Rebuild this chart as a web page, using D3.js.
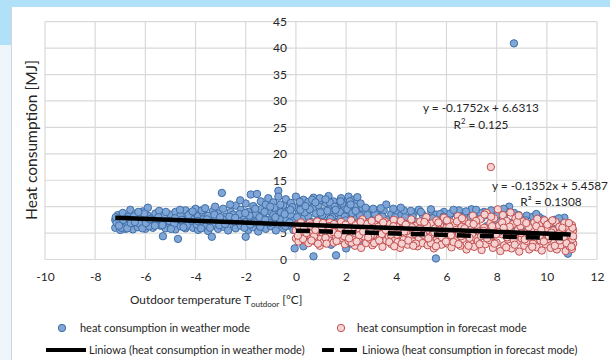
<!DOCTYPE html>
<html><head><meta charset="utf-8">
<script src="https://cdn.jsdelivr.net/npm/d3@7"></script>
<style>
html,body{margin:0;padding:0;background:#fff;overflow:hidden;}
svg{display:block;font-family:Lato,"Open Sans",sans-serif;}
</style>
</head><body>
<svg id="chart" width="610" height="360"></svg>
<script>
// ---------- DATA ----------
const xTicks = [-10,-8,-6,-4,-2,0,2,4,6,8,10,12];
const yTicks = [0,5,10,15,20,25,30,35,40,45];

const weatherPoints = [
[-7.2,6.0],[-7.2,7.5],[-7.1,8.4],[-7.1,6.8],[-7.0,5.6],[-7.0,7.9],[-6.9,6.4],[-6.9,8.8],[-6.8,7.2],[-6.8,5.8],
[-6.7,8.1],[-6.7,6.6],[-6.6,9.4],[-6.6,7.6],[-6.5,5.7],[-6.5,6.9],[-6.4,8.6],[-6.3,7.3],[-6.3,6.1],[-6.2,8.0],
[-6.1,9.1],[-6.1,6.6],[-6.0,7.6],[-6.0,5.8],[-5.9,8.3],[-5.9,9.8],[-5.8,6.9],[-5.7,7.9],[-5.7,6.0],[-5.6,8.7],
[-5.5,7.2],[-5.4,6.4],[-5.4,8.2],[-5.3,4.4],[-5.3,7.0],[-5.2,5.9],[-5.1,7.8],[-5.0,6.5],[-5.0,8.5],[-4.9,7.3],
[-4.8,5.7],[-4.8,9.0],[-4.7,3.9],[-4.7,7.7],[-4.6,6.3],[-4.6,8.4],[-4.5,7.0],[-4.4,9.3],[-4.4,5.9],[-4.3,7.9],
[-4.2,6.8],[-4.2,8.8],[-4.1,6.0],[-4.0,7.4],[-4.0,9.6],[-3.9,8.2],[-3.9,5.6],[-3.8,6.9],[-3.7,8.8],[-3.7,7.6],
[-3.6,6.2],[-3.5,5.4],[-3.5,8.3],[-3.4,7.1],[-3.35,4.3],[-3.3,9.2],[-3.3,6.5],[-3.2,7.8],[-3.1,5.8],[-3.1,8.7],
[-3.0,7.0],[-2.95,12.6],[-2.9,9.6],[-2.9,6.2],[-2.8,8.1],[-2.7,5.5],[-2.7,7.4],[-2.6,9.0],[-2.5,6.7],[-2.5,8.5],
[-2.4,10.2],[-2.4,5.9],[-2.3,7.6],[-2.2,9.4],[-2.2,6.4],[-2.1,8.2],[-2.0,4.3],[-2.0,10.6],[-2.0,7.1],[-1.9,5.6],
[-1.9,9.0],[-1.8,12.3],[-1.8,7.8],[-1.7,6.1],[-1.7,10.1],[-1.6,8.6],[-1.55,12.4],[-1.5,5.3],[-1.5,7.2],[-1.4,11.0],
[-1.4,9.5],[-1.3,6.6],[-1.3,8.1],[-1.2,10.4],[-1.2,5.8],[-1.1,7.5],[-1.1,11.6],[-1.0,9.0],[-1.0,6.3],[-0.9,8.4],
[-0.9,10.8],[-0.8,5.5],[-0.8,7.0],[-0.7,13.0],[-0.7,9.6],[-0.7,11.9],[-0.6,6.8],[-0.6,8.9],[-0.5,10.3],[-0.5,5.9],
[-0.4,7.7],[-0.4,11.4],[-0.3,9.2],[-0.3,6.4],[-0.2,8.3],[-0.2,10.7],[-0.1,5.6],[-0.1,7.3],[-0.05,2.1],[0.0,9.8],
[0.0,11.9],[0.1,6.9],[0.1,8.6],[0.2,10.4],[0.2,5.3],[0.3,2.5],[0.3,7.8],[0.3,11.3],[0.4,9.3],[0.4,6.2],
[0.5,10.9],[0.5,8.1],[0.6,7.1],[0.6,4.9],[0.7,0.6],[0.7,9.8],[0.7,11.7],[0.8,6.5],[0.8,8.7],[0.9,10.3],
[0.9,5.6],[1.0,7.6],[1.0,11.2],[1.1,9.1],[1.1,4.6],[1.2,6.9],[1.2,10.7],[1.3,8.3],[1.3,12.0],[1.4,5.9],
[1.4,9.7],[1.5,7.3],[1.5,11.0],[1.6,0.8],[1.6,8.8],[1.6,4.4],[1.7,10.2],[1.7,6.4],[1.8,11.6],[1.8,7.9],
[1.9,9.4],[1.9,5.3],[2.0,2.1],[2.0,10.8],[2.0,6.8],[2.1,8.6],[2.1,11.9],[2.2,7.4],[2.2,9.9],[2.3,5.7],
[2.3,11.3],[2.4,8.2],[2.4,10.5],[2.5,6.5],[2.5,9.1],[2.6,7.7],[2.7,5.4],[2.7,8.9],[2.8,7.0],[2.9,9.4],
[3.0,6.2],[3.0,8.3],[3.1,7.5],[3.2,9.0],[3.3,5.8],[3.3,8.0],[3.4,6.9],[3.5,9.3],[3.6,10.4],[3.6,7.6],
[3.7,5.6],[3.8,8.6],[3.9,6.6],[4.0,9.0],[4.1,7.3],[4.2,5.4],[4.2,8.4],[4.3,9.3],[4.4,6.8],[4.5,7.8],
[4.6,5.9],[4.7,8.9],[4.8,7.1],[4.9,9.4],[5.0,6.3],[5.1,8.2],[5.2,5.5],[5.3,7.6],[5.4,9.1],[5.5,6.7],
[5.58,0.2],[5.6,8.5],[5.7,5.8],[5.8,7.3],[5.9,9.0],[6.0,6.2],[6.1,8.0],[6.2,5.3],[6.3,8.8],[6.4,7.0],
[6.5,9.3],[6.6,6.0],[6.7,8.3],[6.8,7.4],[7.0,9.5],[7.1,6.6],[7.2,8.7],[7.3,5.6],[7.4,7.8],[7.5,9.0],
[7.6,6.3],[7.8,8.2],[7.9,5.4],[8.0,7.4],[8.1,9.2],[8.2,6.5],[8.3,8.5],[8.5,10.0],[8.5,7.0],[8.6,5.6],
[8.69,40.9],[8.7,8.8],[8.8,6.2],[9.0,7.6],[9.1,5.3],[9.2,8.3],[9.3,6.7],[9.5,7.2],[9.6,5.5],[9.7,8.0],
[9.8,6.3],[10.0,7.0],[10.1,5.1],[10.2,6.4],[10.3,7.5],[10.4,4.8],[10.5,6.0],[10.6,5.4],[10.7,7.9],[10.8,4.3],
[10.84,1.1],[10.9,5.8],[11.0,4.6],
[-7.15,7.0],[-6.95,6.0],[-6.75,7.7],[-6.45,8.2],[-6.25,6.8],[-6.05,8.7],[-5.85,6.3],[-5.65,7.5],[-5.45,9.2],[-5.25,8.4],
[-5.05,7.3],[-4.85,6.8],[-4.55,7.5],[-4.35,6.4],[-4.15,7.6],[-3.95,6.6],[-3.75,9.3],[-3.55,7.6],[-3.25,8.5],[-3.05,6.5],
[-2.85,7.5],[-2.65,8.1],[-2.45,7.2],[-2.25,8.6],[-2.05,6.0],[-1.85,8.3],[-1.65,7.0],[-1.45,8.0],[-1.25,9.0],[-1.05,6.9],
[-0.85,9.8],[-0.65,7.6],[-0.45,8.6],[-0.25,7.0],[-0.15,9.9],[0.05,8.0],[0.15,10.9],[0.35,8.9],[0.55,9.5],[0.65,11.3],
[0.85,7.3],[0.95,11.6],[1.05,8.4],[1.25,9.2],[1.35,10.8],[1.45,8.0],[1.55,10.0],[1.75,9.0],[1.85,10.6],[1.95,8.1],
[2.05,9.5],[2.15,11.0],[2.25,8.8],[2.35,10.0],[2.45,11.8],[2.55,8.3],[2.65,9.8],[2.6,3.2],[2.85,8.4],[3.15,8.6],
[3.45,8.1],[3.95,8.0],[4.35,8.0],[4.65,8.2],[5.05,8.5],[5.45,7.8],[5.75,8.6],[6.15,8.7],[6.55,8.1],[6.95,7.9],
[7.35,8.8],[7.65,8.4],[8.05,8.5],[8.45,9.0],[9.15,7.4],[9.45,8.1],[9.85,7.6],[10.25,6.9],[10.55,7.2],[10.95,6.6],
[0.9,3.2],[1.4,2.8],[2.2,3.0],
[-7.18,8.0],[-7.05,6.4],[-6.88,7.5],[-6.72,5.9],[-6.58,6.9],[-6.42,7.1],[-6.28,9.0],[-6.12,5.9],[-5.98,6.9],[-5.82,7.6],
[-5.62,6.4],[-5.48,8.0],[-5.32,6.5],[-5.18,9.0],[-4.98,5.8],[-4.82,7.8],[-4.62,9.4],[-4.48,6.1],[-4.28,8.4],[-4.12,9.1],
[-3.92,7.3],[-3.78,5.9],[-3.62,9.7],[-3.42,6.0],[-3.22,10.0],[-3.02,8.0],[-2.82,6.7],[-2.62,10.4],[-2.42,7.9],[-2.22,11.2],
[-2.02,8.8],[-1.82,6.6],[-1.62,9.6],[-1.42,6.2],[-1.22,7.5],[-1.02,10.0],[-0.82,8.0],[-0.62,10.4],[-0.42,6.3],[-0.22,9.4],
[-0.02,6.2],[0.18,9.4],[0.38,10.1],[0.58,6.0],[0.78,10.8],[0.98,8.9],[1.18,11.4],[1.38,7.7],[1.58,9.4],[1.78,11.0],
[1.98,7.4],[2.18,10.4],[2.38,9.2],[2.58,10.6],[2.78,9.8],[3.08,9.6],[3.38,9.7],[3.88,9.6],[4.18,9.8],[4.58,9.2],
[4.98,9.0],[5.38,9.5],[5.88,8.1],[6.28,9.4],[6.78,9.1],[7.18,9.4],[7.78,9.3],[8.28,9.6],[8.88,8.4],[9.58,8.6],[10.48,7.8]
];

const forecastPoints = [
[0.0,5.5],[0.0,4.0],[0.05,6.6],[0.1,3.4],[0.15,4.8],[0.2,5.9],[0.2,7.0],[0.25,4.2],[0.3,5.2],[0.35,3.6],[0.4,6.4],[0.45,4.6],[0.5,5.6],[0.5,3.1],
[0.55,6.9],[0.6,4.1],[0.65,5.0],[0.7,6.1],[0.75,3.5],[0.8,4.7],[0.85,7.2],[0.9,5.4],[0.95,2.6],[1.0,6.3],[1.0,4.0],
[1.05,5.1],[1.1,3.3],[1.15,6.7],[1.2,4.5],[1.25,5.8],[1.3,3.8],[1.35,7.0],[1.4,4.9],[1.45,6.1],[1.5,3.2],
[1.55,5.4],[1.6,4.3],[1.65,6.5],[1.7,3.6],[1.75,5.0],[1.8,7.1],[1.85,4.0],[1.9,5.9],[1.95,2.9],[2.0,4.7],
[2.05,6.3],[2.1,3.5],[2.15,5.3],[2.2,7.4],[2.25,4.3],[2.3,6.0],[2.35,2.6],[2.4,4.9],[2.45,6.8],[2.5,3.8],
[2.55,5.6],[2.6,2.2],[2.65,7.6],[2.7,4.4],[2.75,6.3],[2.8,3.1],[2.85,5.1],[2.9,7.0],[2.95,3.9],[3.0,5.8],
[3.05,2.7],[3.1,4.7],[3.15,6.6],[3.2,3.4],[3.25,5.4],[3.3,7.8],[3.35,4.1],[3.4,6.1],[3.45,2.4],[3.5,5.0],
[3.55,7.2],[3.6,3.6],[3.65,5.7],[3.7,4.4],[3.75,6.7],[3.8,2.9],[3.85,5.2],[3.9,7.5],[3.95,4.0],[4.0,6.2],
[4.05,3.3],[4.1,5.5],[4.15,2.2],[4.2,4.6],[4.25,7.0],[4.3,3.8],[4.35,6.0],[4.4,5.0],[4.45,2.8],[4.5,6.8],
[4.55,4.2],[4.6,7.6],[4.65,3.4],[4.7,5.6],[4.75,4.8],[4.8,6.4],[4.85,2.5],[4.9,3.9],[4.95,7.2],[5.0,5.2],
[5.05,3.1],[5.1,6.0],[5.15,4.4],[5.2,8.0],[5.25,2.7],[5.3,5.5],[5.35,3.7],[5.4,6.8],[5.45,4.8],[5.5,2.1],
[5.55,5.9],[5.6,7.4],[5.65,3.3],[5.7,4.6],[5.75,6.4],[5.8,2.8],[5.85,5.2],[5.9,7.9],[5.95,4.0],[6.0,6.0],
[6.05,3.0],[6.1,5.0],[6.15,7.1],[6.2,2.3],[6.25,4.3],[6.3,6.5],[6.35,3.6],[6.4,5.6],[6.45,8.2],[6.5,4.8],
[6.55,2.6],[6.6,6.2],[6.65,3.9],[6.7,7.5],[6.75,5.2],[6.8,1.9],[6.85,4.5],[6.9,6.8],[6.95,3.2],[7.0,5.7],
[7.05,8.3],[7.1,2.4],[7.15,4.1],[7.2,6.4],[7.25,3.5],[7.3,5.3],[7.35,7.6],[7.4,1.8],[7.45,4.7],[7.5,6.0],
[7.55,2.9],[7.6,8.8],[7.65,5.1],[7.7,3.7],[7.75,6.9],[7.77,17.5],[7.8,4.4],[7.85,2.2],[7.9,7.8],[7.95,5.6],[8.0,3.2],
[8.05,9.5],[8.1,6.4],[8.15,1.6],[8.2,4.8],[8.25,8.4],[8.3,2.7],[8.35,5.9],[8.4,7.3],[8.45,3.8],[8.5,5.2],
[8.55,8.9],[8.6,2.1],[8.65,6.7],[8.7,4.3],[8.75,7.8],[8.8,3.3],[8.85,5.6],[8.9,1.5],[8.95,6.3],[9.0,4.0],
[9.05,7.2],[9.1,2.6],[9.15,5.0],[9.2,3.5],[9.25,6.6],[9.3,1.9],[9.35,4.6],[9.4,5.8],[9.45,3.0],[9.5,7.0],
[9.55,4.2],[9.6,2.3],[9.65,5.4],[9.7,6.5],[9.75,3.6],[9.8,1.7],[9.85,4.9],[9.9,7.4],[9.95,2.9],[10.0,5.9],
[10.05,3.9],[10.1,6.8],[10.15,2.2],[10.2,4.6],[10.25,5.5],[10.3,3.2],[10.35,7.1],[10.4,1.9],[10.45,4.2],[10.5,6.2],
[10.55,2.7],[10.6,5.1],[10.65,3.7],[10.7,6.9],[10.75,1.6],[10.8,4.5],[10.85,5.8],[10.9,2.5],[10.95,3.4],[11.0,6.5],
[11.0,4.9],[11.0,2.0],[11.05,5.5],[11.05,3.0],
[0.12,6.1],[0.28,3.9],[0.42,5.0],[0.58,6.4],[0.72,4.4],[0.88,3.0],[1.02,5.7],[1.18,4.1],[1.32,6.3],[1.48,5.2],
[1.62,3.5],[1.78,6.0],[1.92,4.4],[2.08,5.6],[2.22,3.2],[2.38,6.5],[2.52,4.6],[2.68,5.3],[2.82,6.7],[2.98,4.5],
[3.12,3.1],[3.28,6.2],[3.42,4.8],[3.58,5.6],[3.72,3.3],[3.88,6.3],[4.02,4.7],[4.18,7.3],[4.32,5.3],[4.48,3.6],
[4.62,6.1],[4.78,3.0],[4.92,5.8],[5.08,4.7],[5.22,6.5],[5.38,3.1],[5.52,5.1],[5.68,7.0],[5.82,4.2],[5.98,3.4],
[6.12,6.2],[6.28,3.3],[6.42,7.2],[6.58,4.4],[6.72,5.9],[6.88,2.6],[7.02,4.8],[7.18,7.3],[7.32,2.9],[7.48,5.4],
[7.62,4.0],[7.78,8.1],[7.92,3.0],[8.08,5.2],[8.22,7.0],[8.38,2.3],[8.52,6.2],[8.68,3.7],[8.82,7.1],[8.98,5.0],
[9.12,3.8],[9.28,6.1],[9.42,2.4],[9.58,6.3],[9.72,4.5],[9.88,3.4],[10.02,6.6],[10.18,5.1],[10.32,2.6],[10.48,4.9],
[10.62,6.0],[10.78,3.1],[10.92,5.2],[11.02,3.9],[11.02,6.0],[10.98,2.4],
[0.08,4.5],[0.32,6.0],[0.62,3.6],[0.78,5.6],[1.08,6.9],[1.22,3.0],[1.52,6.7],[1.68,4.7],[1.98,6.6],[2.12,4.0],
[2.42,3.4],[2.58,7.1],[2.88,4.2],[3.02,7.3],[3.32,3.6],[3.48,7.0],[3.78,4.7],[3.92,2.5],[4.22,3.0],[4.38,6.6],
[4.68,2.6],[4.82,5.3],[5.12,7.1],[5.28,4.0],[5.58,2.5],[5.72,5.6],[6.02,7.4],[6.18,4.6],[6.48,2.9],[6.62,7.8],
[6.92,4.1],[7.08,6.7],[7.38,4.4],[7.52,8.5],[7.82,6.3],[7.98,4.8],[8.28,6.0],[8.42,4.2],[8.72,2.8],[8.88,8.3],
[9.18,6.9],[9.32,4.3],[9.62,7.7],[9.78,5.6],[10.08,4.4],[10.22,7.4],[10.52,3.6],[10.68,4.3],[10.88,6.9],[11.05,4.4]
];

const weatherTrendCoef = [-0.1752, 6.6313];
const weatherTrendRange = [-7.2, 10.95];
const forecastTrendCoef = [-0.1352, 5.4587];
const forecastTrendRange = [0.0, 10.95];

const equationLines1 = ["y = -0.1752x + 6.6313", "R", "2", " = 0.125"];
const equationLines2 = ["y = -0.1352x + 5.4587", "R² = 0.1308"];
const legendLabels = [
  "heat consumption in weather mode",
  "heat consumption in forecast mode",
  "Liniowa (heat consumption in weather mode)",
  "Liniowa (heat consumption in forecast mode)"
];
const yTitle = "Heat consumption [MJ]";
const xTitleParts = ["Outdoor temperature T", "outdoor", " [°C]"];

// ---------- STYLE ----------
const blueFill = "#7fa6d7", blueStroke = "#3f6ea6";
const pinkFill = "#f5d3d3", pinkStroke = "#c44f4f";
const gridColor = "#d9d9d9", textColor = "#262626";

const svg = d3.select("#chart");

// page frame
svg.append("rect").attr("x",0).attr("y",0).attr("width",610).attr("height",360).attr("fill","#fff");
svg.append("rect").attr("x",0).attr("y",0).attr("width",610).attr("height",7).attr("fill","#b1e0f9");
svg.append("rect").attr("x",0).attr("y",0).attr("width",11).attr("height",45).attr("fill","#b1e0f9");
svg.append("rect").attr("x",0).attr("y",45).attr("width",11).attr("height",315).attr("fill","#eef6fb");
svg.append("line").attr("x1",11.5).attr("x2",11.5).attr("y1",7).attr("y2",360).attr("stroke","#d4d4d4").attr("stroke-width",1);

const x = d3.scaleLinear().domain([-10,12]).range([45,597]);
const y = d3.scaleLinear().domain([0,45]).range([259.5,21.7]);

function fitWidth(sel, target){
  const n = sel.node();
  const fs = parseFloat(sel.attr("font-size"));
  const w = n.getComputedTextLength();
  if (w > 0) sel.attr("font-size", (fs*target/w).toFixed(2));
}

// grid
const grid = svg.append("g");
grid.selectAll("line.h").data(yTicks).enter().append("line")
  .attr("x1", x(-10)).attr("x2", x(12))
  .attr("y1", d=>y(d)).attr("y2", d=>y(d))
  .attr("stroke", gridColor).attr("stroke-width",1.2);
grid.selectAll("line.v").data(xTicks).enter().append("line")
  .attr("x1", d=>x(d)).attr("x2", d=>x(d))
  .attr("y1", y(0)).attr("y2", y(45))
  .attr("stroke", gridColor).attr("stroke-width",1.2);

// axes labels
const xAxis = svg.append("g").attr("transform",`translate(0,${y(0)})`)
  .call(d3.axisBottom(x).tickValues(xTicks).tickSize(0).tickPadding(13).tickFormat(d3.format("d")));
xAxis.select(".domain").remove();
xAxis.selectAll("text").attr("font-size",12).attr("font-family","Lato, sans-serif").attr("fill",textColor)
  .text(d => String(d));

const yAxis = svg.append("g").attr("transform",`translate(${x(0)},0)`)
  .call(d3.axisLeft(y).tickValues(yTicks).tickSize(0).tickPadding(9).tickFormat(d3.format("d")));
yAxis.select(".domain").remove();
yAxis.selectAll("text").attr("font-size",12).attr("font-family","Lato, sans-serif").attr("fill",textColor);

// points
svg.append("g").selectAll("circle").data(weatherPoints).enter().append("circle")
  .attr("cx", d=>x(d[0])).attr("cy", d=>y(d[1])).attr("r",3.7)
  .attr("fill", blueFill).attr("stroke", blueStroke).attr("stroke-width",1);
svg.append("g").selectAll("circle").data(forecastPoints).enter().append("circle")
  .attr("cx", d=>x(d[0])).attr("cy", d=>y(d[1])).attr("r",3.7)
  .attr("fill", pinkFill).attr("stroke", pinkStroke).attr("stroke-width",1);

// trend lines
const line = d3.line().x(d=>x(d[0])).y(d=>y(d[1]));
const wt = weatherTrendRange.map(v=>[v, weatherTrendCoef[0]*v + weatherTrendCoef[1]]);
const ft = forecastTrendRange.map(v=>[v, forecastTrendCoef[0]*v + forecastTrendCoef[1]]);
svg.append("path").attr("d", line(wt)).attr("stroke","#000").attr("stroke-width",4.5).attr("fill","none");
svg.append("path").attr("d", line(ft)).attr("stroke","#000").attr("stroke-width",4.5).attr("fill","none")
  .attr("stroke-dasharray","14,9");

// equations
const eq1 = svg.append("text").attr("x",481).attr("y",112).attr("text-anchor","middle")
  .attr("font-size",12).attr("fill",textColor).text(equationLines1[0]);
fitWidth(eq1, 116);
const eqFs = eq1.attr("font-size");
const r1 = svg.append("text").attr("x",481).attr("y",129).attr("text-anchor","middle")
  .attr("font-size",eqFs).attr("fill",textColor);
r1.append("tspan").text(equationLines1[1]);
r1.append("tspan").attr("font-size", eqFs*0.65).attr("dy",-5).text(equationLines1[2]);
r1.append("tspan").attr("dy",5).text(equationLines1[3]);
svg.append("text").attr("x",550).attr("y",190).attr("text-anchor","middle")
  .attr("font-size",eqFs).attr("fill",textColor).text(equationLines2[0]);
svg.append("text").attr("x",551).attr("y",206).attr("text-anchor","middle")
  .attr("font-size",eqFs).attr("fill",textColor).text(equationLines2[1]);

// axis titles
const yt = svg.append("text").attr("transform","translate(37,140) rotate(-90)")
  .attr("text-anchor","middle").attr("font-size",15).attr("fill",textColor).text(yTitle);
fitWidth(yt, 160);

// legend
const lg = svg.append("g").attr("fill",textColor);
lg.append("circle").attr("cx",62).attr("cy",328).attr("r",3.7).attr("fill",blueFill).attr("stroke",blueStroke);
const l1 = lg.append("text").attr("x",80).attr("y",332).attr("font-size",11.5).text(legendLabels[0]);
fitWidth(l1, 170);
const lf = +l1.attr("font-size");
lg.append("circle").attr("cx",341).attr("cy",328).attr("r",3.7).attr("fill",pinkFill).attr("stroke",pinkStroke);
lg.append("text").attr("x",357).attr("y",332).attr("font-size",lf).text(legendLabels[1]);
lg.append("line").attr("x1",46).attr("x2",86).attr("y1",350).attr("y2",350).attr("stroke","#000").attr("stroke-width",4);
lg.append("text").attr("x",89).attr("y",354).attr("font-size",lf).text(legendLabels[2]);
lg.append("line").attr("x1",322).attr("x2",357).attr("y1",350).attr("y2",350).attr("stroke","#000").attr("stroke-width",4)
  .attr("stroke-dasharray","12,6,17,0");
lg.append("text").attr("x",362).attr("y",354).attr("font-size",lf).text(legendLabels[3]);

const xfs = 11.8;
const xt = svg.append("text").attr("x",130).attr("y",304).attr("font-size",xfs).attr("fill",textColor);
xt.append("tspan").text(xTitleParts[0]);
xt.append("tspan").attr("font-size",xfs*0.68).attr("dy",3).text(xTitleParts[1]);
xt.append("tspan").attr("dy",-3).text(xTitleParts[2]);
</script>
</body></html>
